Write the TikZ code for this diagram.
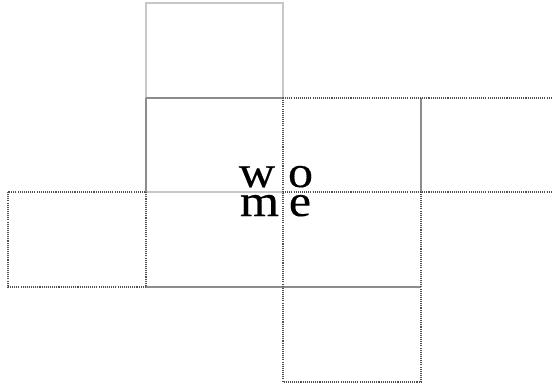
\documentclass[tikz,border=0pt]{standalone}
\usepackage{fontspec}
\newfontfamily\wideserif[FakeStretch=1.12,FakeBold=0.3]{Liberation Serif}
\usepackage{tikz}
\usepackage{xcolor}
\definecolor{lgray}{RGB}{200,200,200}
\definecolor{mgray}{RGB}{140,140,140}
\definecolor{dgray}{RGB}{80,80,80}

\begin{document}
\begin{tikzpicture}[
  x=0.02cm, y=-0.02cm,
  lightedge/.style={lgray,line width=0.7pt},
  solidedge/.style={mgray,line width=0.7pt},
  dotedge/.style={dgray,line width=0.7pt,dash pattern=on 0.6pt off 0.6pt},
  letter/.style={font=\wideserif\fontsize{25.5}{30}\selectfont,inner sep=0pt,anchor=base}
]
\useasboundingbox (0,0) rectangle (552,389);
% light cell on top
\draw[lightedge] (146,3) rectangle (283,98);
\draw[lightedge] (146,192) -- (283,192);
% solid edges
\draw[solidedge] (146,98) -- (283,98);
\draw[solidedge] (146,192) -- (146,98);
\draw[solidedge] (421,98) -- (421,192);
\draw[solidedge] (146,287) -- (421,287);
% dotted cells
\draw[dotedge] (8,192) rectangle (146,287);
\draw[dotedge] (283,98) -- (283,382) -- (421,382) -- (421,192);
\draw[dotedge] (283,98) -- (552,98);
\draw[dotedge] (283,192) -- (552,192);
% letters
\node[letter] (w) at (257,187) {w};
\node[letter] (o) at (300.5,187) {o};
\node[letter] (m) at (259.5,216) {m};
\node[letter] (e) at (300,216) {e};
\end{tikzpicture}
\end{document}
